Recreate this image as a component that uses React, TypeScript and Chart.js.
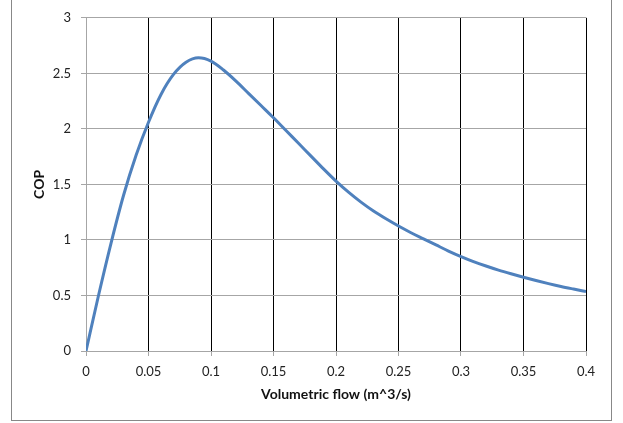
import React, { useEffect, useRef } from "react";
import { Chart, registerables } from "chart.js";

Chart.register(...registerables);

const flow: number[] = [0, 0.01, 0.02, 0.03, 0.04, 0.05, 0.06, 0.07, 0.08, 0.09, 0.1, 0.11, 0.12, 0.13, 0.14, 0.15, 0.16, 0.17, 0.18, 0.19, 0.2, 0.21, 0.22, 0.23, 0.24, 0.25, 0.26, 0.27, 0.28, 0.29, 0.3, 0.31, 0.32, 0.33, 0.34, 0.35, 0.36, 0.37, 0.38, 0.39, 0.4];
const cop: number[] = [0, 0.5, 0.97, 1.4, 1.76, 2.06, 2.31, 2.49, 2.6, 2.64, 2.61, 2.53, 2.43, 2.32, 2.21, 2.1, 1.985, 1.87, 1.755, 1.64, 1.53, 1.43, 1.34, 1.26, 1.19, 1.125, 1.065, 1.01, 0.955, 0.9, 0.85, 0.805, 0.765, 0.728, 0.695, 0.664, 0.635, 0.607, 0.581, 0.558, 0.536];

const xTitle = "Volumetric flow (m^3/s)";
const yTitle = "COP";

const GRAY = "#a6a6a6";
const BLACK = "#000000";
const FONT = "Lato, 'DejaVu Sans', sans-serif";

const framePlugin = {
  id: "frame",
  beforeDraw(chart: any) {
    const { ctx } = chart;
    ctx.save();
    ctx.fillStyle = "#ffffff";
    ctx.fillRect(0, 0, chart.width, chart.height);
    ctx.strokeStyle = "#888888";
    ctx.lineWidth = 1;
    ctx.strokeRect(11.5, -5.5, 600, 426);
    ctx.restore();
  },
};

export default function App() {
  const ref = useRef<HTMLCanvasElement | null>(null);
  useEffect(() => {
    if (!ref.current) return;
    const chart = new Chart(ref.current, {
      type: "scatter",
      data: {
        datasets: [
          {
            data: flow.map((x, i) => ({ x, y: cop[i] })),
            showLine: true,
            borderColor: "#4f81bd",
            borderWidth: 3,
            pointRadius: 0,
            cubicInterpolationMode: "monotone",
          },
        ],
      },
      options: {
        animation: false,
        responsive: false,
        layout: { padding: { left: 0, top: 15, right: 37, bottom: 12 } },
        plugins: { legend: { display: false }, tooltip: { enabled: false } },
        scales: {
          x: {
            type: "linear",
            min: 0,
            max: 0.4,
            afterFit: (s: any) => {
              s.height = 60;
            },
            ticks: {
              stepSize: 0.05,
              padding: 8,
              color: "#222",
              font: { family: FONT, size: 13 },
              callback: (v: any) => String(Math.round(Number(v) * 100) / 100),
            },
            grid: {
              color: (c: any) => (c.index === 0 ? GRAY : BLACK),
              tickColor: GRAY,
              tickLength: 5,
              lineWidth: 1,
            },
            border: { color: GRAY },
            title: {
              display: true,
              text: xTitle,
              color: "#111",
              font: { family: FONT, size: 14, weight: "bold" },
              padding: { top: 4, bottom: 8 },
            },
          },
          y: {
            min: 0,
            max: 3,
            afterFit: (s: any) => {
              s.width = 86;
            },
            ticks: {
              stepSize: 0.5,
              padding: 10,
              color: "#222",
              font: { family: FONT, size: 13 },
              callback: (v: any) => String(Math.round(Number(v) * 10) / 10),
            },
            grid: {
              color: GRAY,
              tickColor: GRAY,
              tickLength: 5,
              lineWidth: 1,
            },
            border: { color: GRAY },
            title: {
              display: true,
              text: yTitle,
              color: "#111",
              font: { family: FONT, size: 14, weight: "bold" },
              padding: { top: 31, bottom: 4 },
            },
          },
        },
      },
      plugins: [framePlugin],
    } as any);
    return () => chart.destroy();
  }, []);
  return (
    <div style={{ position: "fixed", left: 0, top: 0, width: 623, height: 423, background: "#fff" }}>
      <canvas ref={ref} width={623} height={423} style={{ display: "block" }} />
    </div>
  );
}
